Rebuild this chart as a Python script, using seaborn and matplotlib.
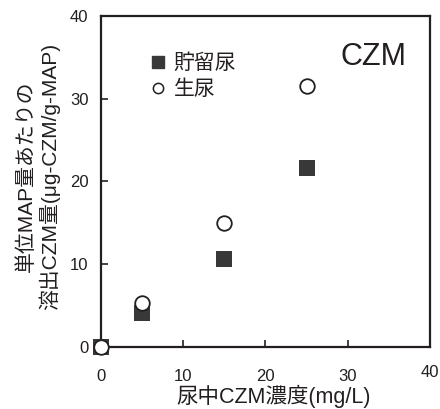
import matplotlib
matplotlib.use('Agg')
import matplotlib.pyplot as plt
import seaborn as sns
import pandas as pd
from matplotlib.lines import Line2D
from matplotlib.transforms import ScaledTranslation

conc = [0, 5, 15, 25]
stored = [0, 4.1, 10.6, 21.6]
fresh = [0, 5.3, 15.0, 31.5]
series_names = ['貯留尿', '生尿']
ticks = [0, 10, 20, 30, 40]

sns.set_style('ticks')
plt.rcParams['font.family'] = ['Liberation Sans', 'Noto Sans CJK JP']

df = pd.DataFrame({
    'conc': conc * 2,
    'value': stored + fresh,
    'kind': [series_names[0]] * 4 + [series_names[1]] * 4,
})

ink = '#231f20'

fig = plt.figure(figsize=(4.4, 4.09), dpi=100)
ax = fig.add_axes([0.2295, 0.1516, 0.7475, 0.8094])

sns.scatterplot(data=df[df['kind'] == series_names[0]], x='conc', y='value',
                marker='s', s=132, color='#383838', edgecolor='#383838',
                linewidth=0, ax=ax, clip_on=False, zorder=3, legend=False)
sns.scatterplot(data=df[df['kind'] == series_names[1]], x='conc', y='value',
                marker='o', s=110, color='white', edgecolor=ink,
                linewidth=1.3, ax=ax, clip_on=False, zorder=4, legend=False)

ax.set_xlim(0, 40)
ax.set_ylim(0, 40)
ax.set_xticks(ticks)
ax.set_yticks(ticks)
ax.tick_params(direction='in', length=5, width=1.2, labelsize=12,
               colors=ink, pad=16)
ax.tick_params(axis='y', pad=9)
for sp in ax.spines.values():
    sp.set_linewidth(1.6)
    sp.set_color(ink)
    sp.set_visible(True)

# the last x tick label sits a bit higher in the original
lab40 = ax.xaxis.get_major_ticks()[-1].label1
lab40.set_transform(lab40.get_transform() +
                    ScaledTranslation(0, 4 / 100, fig.dpi_scale_trans))

ax.set_xlabel('尿中CZM濃度(mg/L)', fontsize=15.5, color=ink)
ax.xaxis.set_label_coords(0.524, -0.114)
ax.set_ylabel('単位MAP量あたりの\n溶出CZM量(μg-CZM/g-MAP)', fontsize=15,
              color=ink, linespacing=1.15)
ax.yaxis.set_label_coords(-0.125, 0.515)

handles = [
    Line2D([], [], marker='s', linestyle='none', markersize=8.6,
           markerfacecolor='#383838', markeredgecolor='#383838'),
    Line2D([], [], marker='o', linestyle='none', markersize=7.4,
           markerfacecolor='white', markeredgecolor=ink,
           markeredgewidth=1.1),
]
ax.legend(handles, series_names, loc='upper left',
          bbox_to_anchor=(0.085, 0.943), frameon=False, fontsize=15,
          handletextpad=0.25, labelspacing=0.3, handlelength=1.0,
          labelcolor=ink)

ax.text(0.93, 0.852, 'CZM', transform=ax.transAxes, fontsize=22,
        ha='right', va='baseline', color=ink)

fig.savefig('out.png', dpi=100)
